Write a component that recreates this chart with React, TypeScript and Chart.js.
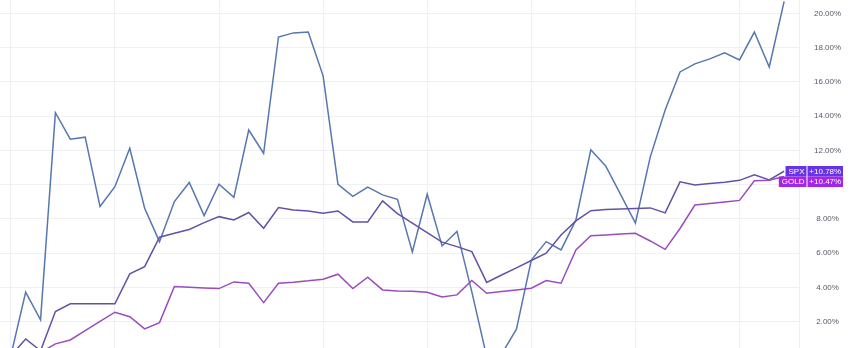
import React, { useEffect, useRef } from "react";
import { Chart, registerables } from "chart.js";

Chart.register(...registerables);

// Daily index positions (0..52); gridlines weekly
const weekTicks = [0, 7, 14, 21, 28, 35, 42, 49];
const yTicks = [2, 4, 6, 8, 10, 12, 14, 16, 18, 20];

// Percent change series
const mainSeries = [
  0, 3.72, 2.1, 14.2, 12.65, 12.77, 8.72, 9.88, 12.12, 8.62, 6.67, 9.01, 10.12, 8.19,
  10.02, 9.26, 13.19, 11.83, 18.62, 18.86, 18.91, 16.35, 10.02, 9.31, 9.85, 9.4, 9.14,
  6.07, 9.44, 6.42, 7.27, 3.74, -0.05, 0.1, 1.56, 5.6, 6.67, 6.19, 7.94, 12.03, 11.09,
  9.43, 7.76, 11.62, 14.36, 16.58, 17.05, 17.34, 17.69, 17.28, 18.91, 16.87, 20.7,
];
const spx = [
  0, 0.99, 0.3, 2.59, 3.04, 3.04, 3.04, 3.04, 4.79, 5.21, 6.93, 7.16, 7.38, 7.78, 8.13,
  7.94, 8.37, 7.45, 8.66, 8.52, 8.46, 8.33, 8.46, 7.82, 7.82, 9.05, 8.31, 7.75, 7.19,
  6.64, 6.38, 6.09, 4.29, 4.72, 5.14, 5.57, 6.0, 7.06, 7.88, 8.48, 8.54, 8.58, 8.61,
  8.64, 8.35, 10.16, 9.98, 10.06, 10.14, 10.25, 10.57, 10.27, 10.78,
];
const gold = [
  0, 0.3, 0.2, 0.7, 0.93, 1.47, 2.01, 2.55, 2.29, 1.58, 1.94, 4.05, 4.01, 3.97, 3.93,
  4.32, 4.24, 3.11, 4.24, 4.3, 4.38, 4.48, 4.77, 3.93, 4.59, 3.85, 3.79, 3.77, 3.72,
  3.44, 3.56, 4.4, 3.66, 3.76, 3.85, 3.95, 4.4, 4.24, 6.19, 7.01, 7.06, 7.11, 7.16,
  6.71, 6.22, 7.44, 8.81, 8.9, 8.99, 9.08, 10.22, 10.25, 10.47,
];

const tagNames = ["SPX", "GOLD"];
const tagColors = ["#6833e6", "#a226e4"];

const toPoints = (arr: number[]) => arr.map((v, i) => ({ x: i, y: v }));

const tagPlugin = {
  id: "tags",
  afterDraw(chart: any) {
    const { ctx, chartArea, scales } = chart;
    const y = scales.y;
    const vals = [spx[spx.length - 1], gold[gold.length - 1]];
    const h = 10.5;
    let prevBottom = -Infinity;
    ctx.save();
    ctx.font = "8px 'Liberation Sans', Arial, sans-serif";
    ctx.textBaseline = "middle";
    vals.forEach((v, k) => {
      let cy = y.getPixelForValue(v);
      let top = cy - h / 2;
      if (top < prevBottom) top = prevBottom;
      const bottom = top + h;
      prevBottom = bottom;
      const mid = (top + bottom) / 2;
      const labelRight = chartArea.right + 7.5;
      const name = tagNames[k];
      const nw = ctx.measureText(name).width + 5;
      ctx.fillStyle = tagColors[k];
      ctx.fillRect(labelRight - nw, top, nw, h);
      const valLeft = chartArea.right + 8.5;
      ctx.fillRect(valLeft, top, 35.5, h);
      ctx.fillStyle = "#ffffff";
      ctx.textAlign = "right";
      ctx.fillText(name, labelRight - 2, mid + 0.5);
      ctx.textAlign = "center";
      ctx.fillText("+" + v.toFixed(2) + "%", valLeft + 35.5 / 2, mid + 0.5);
    });
    ctx.restore();
  },
};

export default function App() {
  const ref = useRef<HTMLCanvasElement | null>(null);
  useEffect(() => {
    if (!ref.current) return;
    const gridColor = "#eef0f4";
    const chart = new Chart(ref.current, {
      type: "line",
      data: {
        datasets: [
          {
            label: "GOLD",
            data: toPoints(gold),
            borderColor: "#9a4cbc",
            borderWidth: 1.5,
            pointRadius: 0,
            tension: 0,
          },
          {
            label: "SPX",
            data: toPoints(spx),
            borderColor: "#6550a6",
            borderWidth: 1.5,
            pointRadius: 0,
            tension: 0,
          },
          {
            label: "Main",
            data: toPoints(mainSeries),
            borderColor: "#5677b0",
            borderWidth: 1.5,
            pointRadius: 0,
            tension: 0,
          },
        ],
      },
      options: {
        animation: false,
        responsive: false,
        maintainAspectRatio: false,
        layout: { padding: 0 },
        plugins: { legend: { display: false }, tooltip: { enabled: false } },
        scales: {
          x: {
            type: "linear",
            min: -0.726,
            max: 53,
            position: "bottom",
            afterBuildTicks: (s: any) => {
              s.ticks = weekTicks.map((v) => ({ value: v }));
            },
            afterFit: (s: any) => {
              s.height = 0;
              s.paddingLeft = 0;
              s.paddingRight = 0;
            },
            ticks: { display: false },
            grid: { color: gridColor, drawTicks: false, lineWidth: 1 },
            border: { display: false },
          },
          y: {
            type: "linear",
            position: "right",
            min: 0.46,
            max: 20.78,
            afterBuildTicks: (s: any) => {
              s.ticks = yTicks.map((v) => ({ value: v }));
            },
            afterFit: (s: any) => {
              s.width = 58;
              s.paddingTop = 0;
              s.paddingBottom = 0;
            },
            ticks: {
              color: "#555a66",
              font: { family: "'Liberation Sans', Arial, sans-serif", size: 8 },
              crossAlign: "center",
              callback: (v: any) => (Number(v) === 10 ? "" : Number(v).toFixed(2) + "%"),
            },
            grid: {
              color: gridColor,
              drawTicks: true,
              tickLength: 12,
              tickColor: "rgba(0,0,0,0)",
            },
            border: { display: true, color: gridColor },
          },
        },
      },
      plugins: [tagPlugin],
    });
    return () => chart.destroy();
  }, []);
  return (
    <div style={{ position: "fixed", left: 0, top: 0, width: 857, height: 348, background: "#fff" }}>
      <canvas ref={ref} width={857} height={348} style={{ display: "block" }} />
    </div>
  );
}
